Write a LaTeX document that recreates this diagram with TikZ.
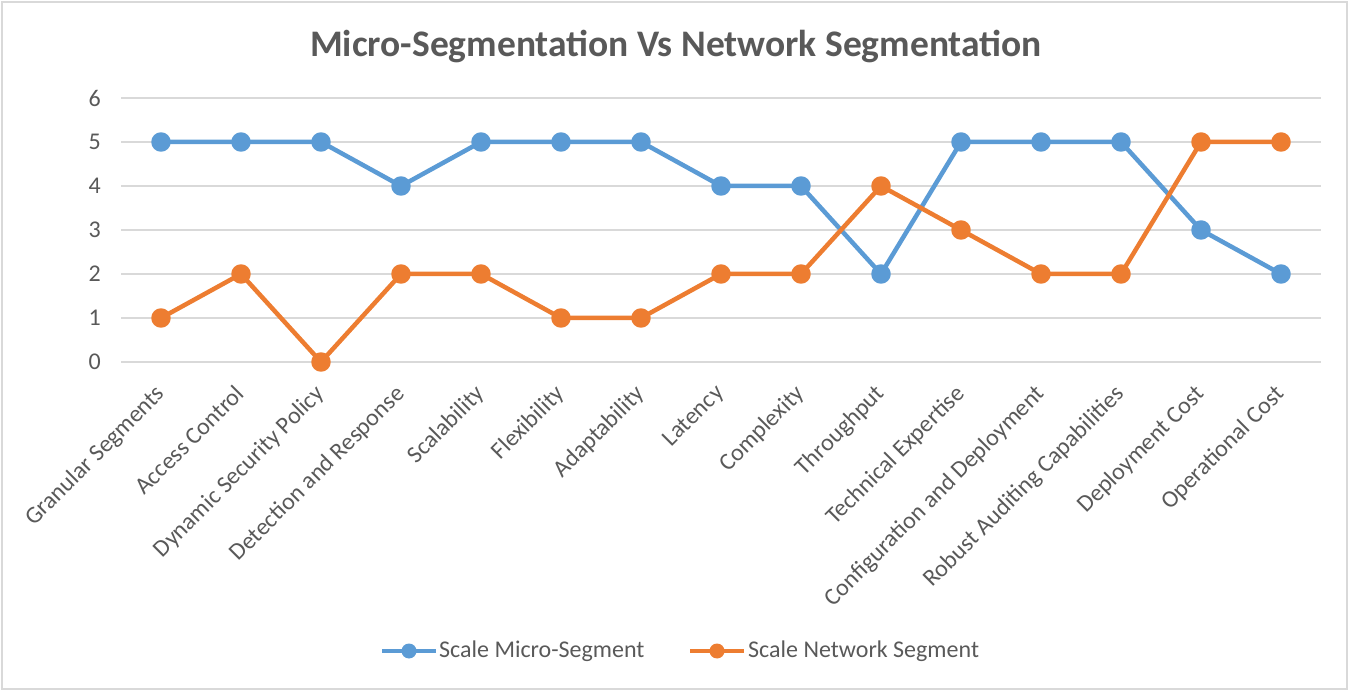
\documentclass[tikz,border=0pt]{standalone}
\usepackage{fontspec}
\setmainfont{Carlito}
\usepackage{xcolor}
\usepackage{tikz}
\usetikzlibrary{positioning}

\definecolor{microblue}{HTML}{5B9BD5}
\definecolor{netorange}{HTML}{ED7D31}
\definecolor{gridgray}{HTML}{D9D9D9}
\definecolor{labelgray}{HTML}{595959}

\tikzset{
  gridline/.style={draw=gridgray, line width=1.5pt},
  ticklabel/.style={text=labelgray, anchor=east, inner sep=0pt,
    font=\fontsize{24}{27}\selectfont},
  catlabel/.style={text=labelgray, rotate=45, anchor=north east, inner sep=0pt,
    font=\fontsize{24}{27}\selectfont},
  series/.style={line width=4.5pt, line join=round, mark=*, mark size=7.5pt},
  legendtext/.style={text=labelgray, anchor=west, inner sep=0pt,
    font=\fontsize{24}{27}\selectfont}
}

\begin{document}
\begin{tikzpicture}[x=1pt, y=1pt]

    \useasboundingbox (0,0) rectangle (1349,691);
    \draw[gridgray, line width=1.5pt] (2,2) rectangle (1347,689);

    \node[text=labelgray, font=\bfseries\fontsize{37.5}{42}\selectfont]
      (title) at (676,645) {Micro-Segmentation Vs Network Segmentation};

    \begin{scope}[shift={(161,329)}, x=80pt, y=44pt]

    % value grid and its scale
    \draw[gridline] (-0.5,0) -- (14.5,0) (-0.5,1) -- (14.5,1)
      (-0.5,2) -- (14.5,2) (-0.5,3) -- (14.5,3) (-0.5,4) -- (14.5,4)
      (-0.5,5) -- (14.5,5) (-0.5,6) -- (14.5,6);

    \path (-0.75,0) node[ticklabel] (y0) {0}
      (-0.75,1) node[ticklabel] (y1) {1}
      (-0.75,2) node[ticklabel] (y2) {2}
      (-0.75,3) node[ticklabel] (y3) {3}
      (-0.75,4) node[ticklabel] (y4) {4}
      (-0.75,5) node[ticklabel] (y5) {5}
      (-0.75,6) node[ticklabel] (y6) {6};

    % categories
    \node[catlabel] (granular) at (-0.09,-0.48) {Granular Segments};
    \node[catlabel] (access) at (0.91,-0.48) {Access Control};
    \node[catlabel] (dynamic) at (1.91,-0.48) {Dynamic Security Policy};
    \node[catlabel] (detection) at (2.91,-0.48) {Detection and Response};
    \node[catlabel] (scalability) at (3.91,-0.48) {Scalability};
    \node[catlabel] (flexibility) at (4.91,-0.48) {Flexibility};
    \node[catlabel] (adaptability) at (5.91,-0.48) {Adaptability};
    \node[catlabel] (latency) at (6.91,-0.48) {Latency};
    \node[catlabel] (complexity) at (7.91,-0.48) {Complexity};
    \node[catlabel] (throughput) at (8.91,-0.48) {Throughput};
    \node[catlabel] (expertise) at (9.91,-0.48) {Technical Expertise};
    \node[catlabel] (config) at (10.91,-0.48) {Configuration and Deployment};
    \node[catlabel] (auditing) at (11.91,-0.48) {Robust Auditing Capabilities};
    \node[catlabel] (depcost) at (12.91,-0.48) {Deployment Cost};
    \node[catlabel] (opcost) at (13.91,-0.48) {Operational Cost};

    % the two series
    \draw[series, microblue] plot coordinates {
      (0,5) (1,5) (2,5) (3,4) (4,5) (5,5) (6,5) (7,4)
      (8,4) (9,2) (10,5) (11,5) (12,5) (13,3) (14,2)};

    \draw[series, netorange] plot coordinates {
      (0,1) (1,2) (2,0) (3,2) (4,2) (5,1) (6,1) (7,2)
      (8,2) (9,4) (10,3) (11,2) (12,2) (13,5) (14,5)};

    \end{scope}

    % legend
    \draw[microblue, line width=4.5pt] (382,40) -- (436,40);
    \fill[microblue] (409,40) circle (7.5pt);
    \node[legendtext] (legmicro) at (439,40) {Scale Micro-Segment};

    \draw[netorange, line width=4.5pt] (690,40) -- (744,40);
    \fill[netorange] (717,40) circle (7.5pt);
    \node[legendtext] (legnetwork) at (748,40) {Scale Network Segment};

  \end{tikzpicture}
\end{document}
